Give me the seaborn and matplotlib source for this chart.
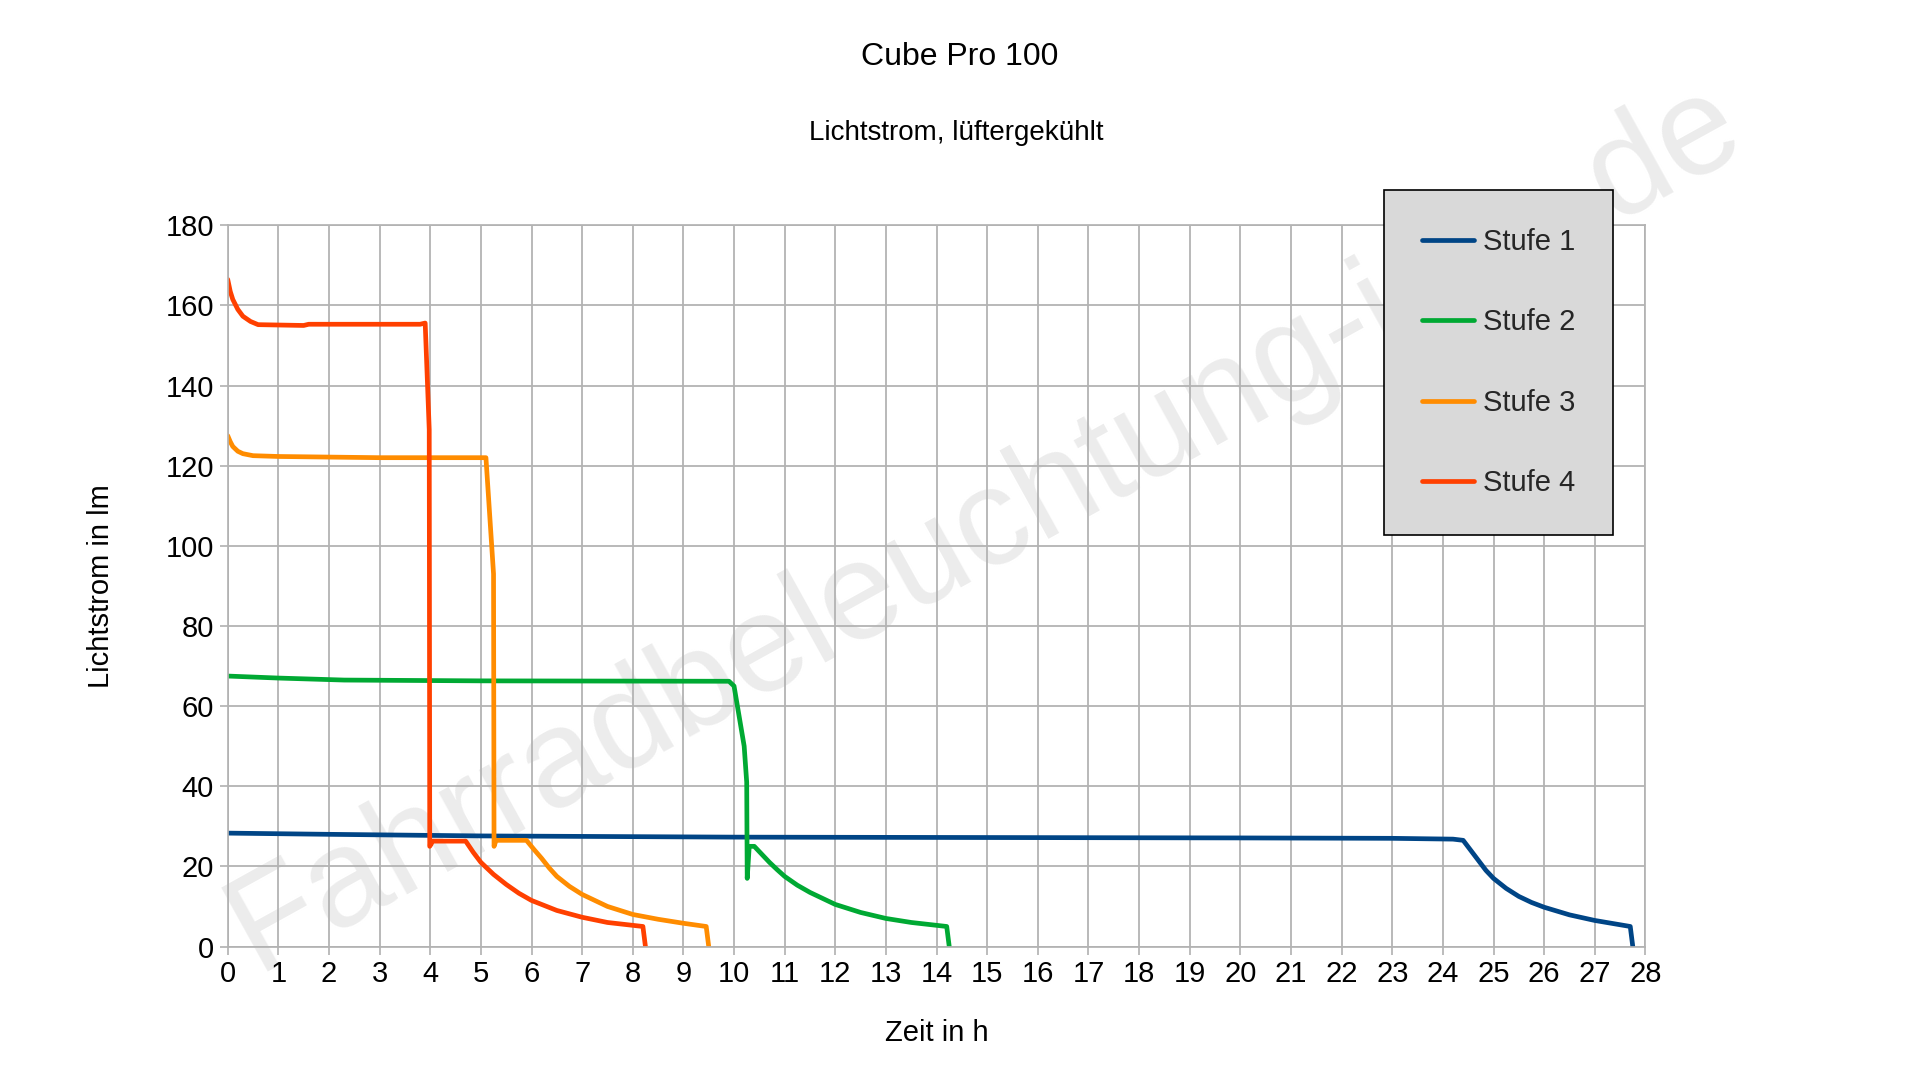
import matplotlib
matplotlib.use("Agg")
import matplotlib.pyplot as plt
import seaborn as sns
import pandas as pd

s1_t = [0, 2, 5, 10, 15, 20, 23, 24.2, 24.4, 24.55, 24.7, 24.85, 25, 25.25, 25.5, 25.75, 26, 26.5, 27, 27.7, 27.75]
s1_v = [28.3, 28, 27.6, 27.3, 27.2, 27.1, 27, 26.8, 26.5, 24, 21.5, 19, 17, 14.5, 12.5, 11, 9.8, 7.9, 6.5, 5, 0]
s2_t = [0, 1, 2.3, 5, 9.9, 10, 10.2, 10.25, 10.26, 10.3, 10.4, 10.55, 10.7, 10.85, 11, 11.25, 11.5, 12, 12.5, 13, 13.5, 14.2, 14.25]
s2_v = [67.5, 67, 66.5, 66.3, 66.2, 65, 50, 41, 17, 25, 25, 23, 21, 19.2, 17.5, 15.3, 13.5, 10.5, 8.5, 7, 6, 5, 0]
s3_t = [0, 0.05, 0.1, 0.2, 0.3, 0.5, 1, 3, 5.1, 5.25, 5.26, 5.3, 5.9, 6.05, 6.2, 6.35, 6.5, 6.75, 7, 7.5, 8, 8.5, 9, 9.45, 9.5]
s3_v = [127.5, 126, 124.8, 123.6, 123, 122.5, 122.3, 122, 122, 93, 25, 26.5, 26.5, 24.2, 22, 19.6, 17.5, 15, 13, 10, 8, 6.8, 5.8, 5, 0]
s4_t = [0, 0.05, 0.1, 0.2, 0.3, 0.45, 0.6, 1.5, 1.6, 3.8, 3.9, 3.98, 3.99, 4.05, 4.7, 4.85, 5, 5.25, 5.5, 5.75, 6, 6.5, 7, 7.5, 8.2, 8.25]
s4_v = [166.5, 163.5, 161.5, 159, 157.3, 156, 155.2, 155, 155.3, 155.3, 155.6, 129, 25, 26.3, 26.3, 23.5, 21, 18, 15.5, 13.3, 11.5, 9, 7.3, 6, 5, 0]
names = ["Stufe 1", "Stufe 2", "Stufe 3", "Stufe 4"]
colors = ["#004586", "#00a933", "#ff8c00", "#ff4000"]

rows = []
for n, t, v in zip(names, [s1_t, s2_t, s3_t, s4_t], [s1_v, s2_v, s3_v, s4_v]):
    for i, (a, b) in enumerate(zip(t, v)):
        rows.append((n, a, b, i))
df = pd.DataFrame(rows, columns=["Stufe", "t", "v", "i"])

sns.set_theme(style="whitegrid")
plt.rcParams["font.family"] = ["Liberation Sans", "DejaVu Sans"]
fig = plt.figure(figsize=(19.2, 10.8), dpi=100)
wm = fig.text(805 / 1568, 1 - 430 / 882, "Fahrradbeleuchtung-info.de", fontsize=100, color="#ececec",
              rotation=29, ha="center", va="center")
wm.set_zorder(-5)
ax = fig.add_axes([0.1186, 0.1236, 0.857 - 0.1186, 0.7914 - 0.1236])
ax.set_zorder(1)
ax.patch.set_alpha(0)

sns.lineplot(data=df, x="t", y="v", hue="Stufe", sort=False, estimator=None,
             palette=colors, linewidth=3.4, ax=ax)
ax.set_xlim(0, 28)
ax.set_ylim(0, 180)
ax.set_xticks(range(0, 29))
ax.set_yticks(range(0, 181, 20))
ax.grid(color="#b3b3b3", linewidth=1.3)
for s in ax.spines.values():
    s.set_color("#b3b3b3")
ax.tick_params(labelsize=21, length=6, pad=4, color="#b3b3b3", labelcolor="black")
ax.tick_params(axis="both", which="both", direction="out", bottom=True, left=True)
ax.set_xlabel("Zeit in h", fontsize=21, labelpad=22, color="black")
ax.set_ylabel("Lichtstrom in lm", fontsize=21, labelpad=36, color="black")
fig.text(0.5, 0.947, "Cube Pro 100", fontsize=23, ha="center", va="center", color="black")
fig.text(0.498, 0.877, "Lichtstrom, lüftergekühlt", fontsize=20, ha="center", va="center", color="black")

leg = ax.legend(loc="upper left", bbox_to_anchor=(1130 / 1568, 1 - 155 / 882),
                bbox_transform=fig.transFigure, fontsize=21, title=None,
                facecolor="#d9d9d9", edgecolor="black", framealpha=1, fancybox=False,
                labelspacing=1.8, handlelength=1.8, handletextpad=0.3, borderpad=1.3,
                borderaxespad=0)
leg.get_frame().set_linewidth(1.2)
leg.set_zorder(10)
fig.savefig("out.png", dpi=100)
